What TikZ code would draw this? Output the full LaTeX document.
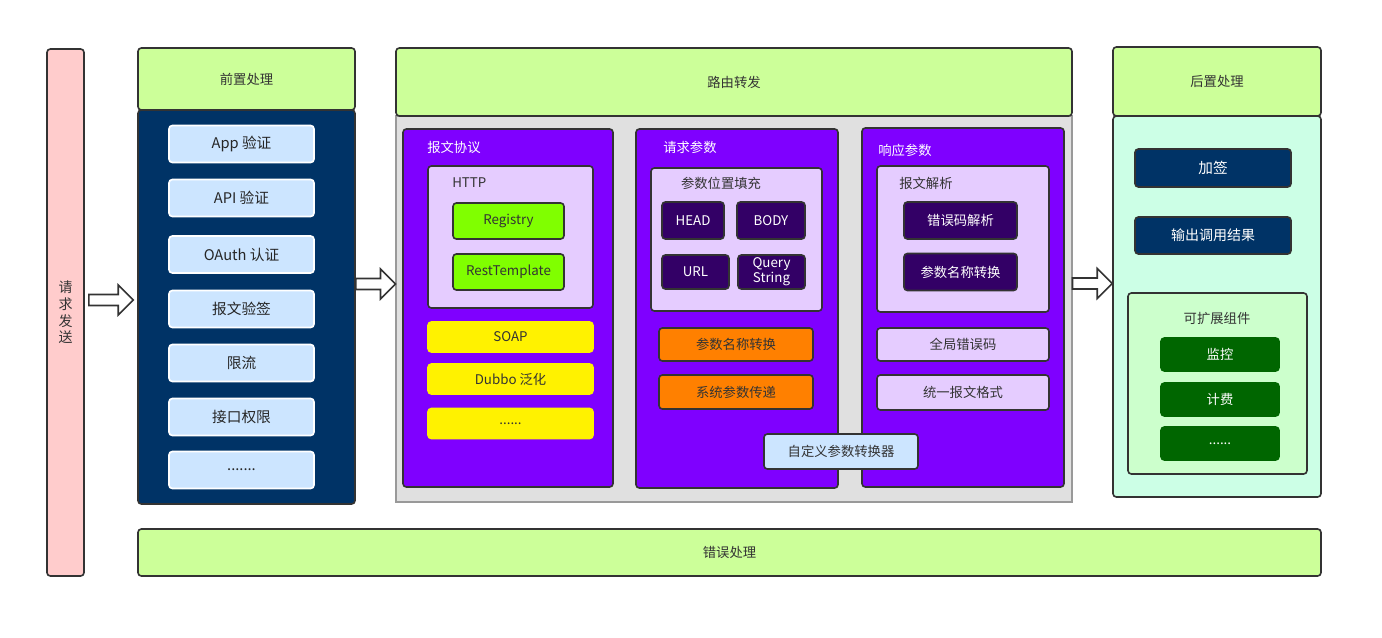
\documentclass[tikz,border=0pt]{standalone}
\usepackage{fontspec}
\setmainfont{Noto Sans CJK SC}
\usetikzlibrary{calc}

\definecolor{sendpink}{HTML}{FFCCCC}
\definecolor{headgreen}{HTML}{CCFF99}
\definecolor{navybody}{HTML}{003366}
\definecolor{lightblue}{HTML}{CCE5FF}
\definecolor{panelgray}{HTML}{E0E0E0}
\definecolor{panelviolet}{HTML}{7F00FF}
\definecolor{lavender}{HTML}{E5CCFF}
\definecolor{limebox}{HTML}{80FF00}
\definecolor{darkpurple}{HTML}{330066}
\definecolor{orangebox}{HTML}{FF8000}
\definecolor{mintbody}{HTML}{CCFFE6}
\definecolor{palegreen}{HTML}{CCFFCC}
\definecolor{darkgreen}{HTML}{006600}
\definecolor{edge}{HTML}{333333}

\newcommand{\hollowarrow}[2]{%
  \draw[hollow] ($(#1)+(0,-5.5)$) -- ($(#2)+(-15,-5.5)$) -- ($(#2)+(-15,-15)$) -- (#2)
    -- ($(#2)+(-15,15)$) -- ($(#2)+(-15,5.5)$) -- ($(#1)+(0,5.5)$) -- cycle;}

\begin{document}
\begin{tikzpicture}[
  x=0.75pt, y=-0.75pt,
  font=\fontsize{10}{12}\selectfont,
  wh/.style 2 args={minimum width=#1*0.75pt, minimum height=#2*0.75pt},
  box/.style={draw=edge, line width=1.2pt, rounded corners=2.5pt, inner sep=0pt, align=center, text=edge},
  head/.style={box, fill=headgreen},
  item/.style={box, draw=white, fill=lightblue, font=\fontsize{11}{13}\selectfont, text=black!85},
  panel/.style={box, fill=panelviolet},
  title/.style={anchor=west, inner sep=0pt, text=white},
  sub/.style={box, fill=lavender},
  subtitle/.style={inner sep=0pt, text=edge},
  dark/.style={box, fill=darkpurple, text=white},
  flat/.style={box, draw=#1, fill=#1},
  hollow/.style={draw=edge, line width=1.2pt, fill=white}
]
\useasboundingbox (0,0) rectangle (1382,638);

\node[box, fill=sendpink, wh={37}{527}, font=\fontsize{10.5}{12.5}\selectfont] (send) at (65.5,312.5)
  {请\\求\\发\\送};

\node[box, fill=navybody, wh={217}{394}] (prebody) at (246.5,307) {};
\node[head, wh={217}{62}] (pre) at (246.5,79) {前置处理};
\node[item, wh={145}{37}] (app) at (241.5,144) {App 验证};
\node[item, wh={145}{37}] (api) at (241.5,198) {API 验证};
\node[item, wh={145}{37}] (oauth) at (241.5,254.5) {OAuth 认证};
\node[item, wh={145}{37}] (sign) at (241.5,309) {报文验签};
\node[item, wh={145}{37}] (limit) at (241.5,363) {限流};
\node[item, wh={145}{37}] (auth) at (241.5,417) {接口权限};
\node[item, wh={145}{37}] (premore) at (241.5,470) {.......};

\node[draw=black!40, line width=0.8pt, fill=panelgray, inner sep=0pt, wh={676}{386}] (routebody) at (734,309) {};
\node[head, wh={676}{68}] (route) at (734,82) {路由转发};

\node[panel, wh={210}{358}] (proto) at (508,308) {};
\node[title] (prototitle) at (427,147) {报文协议};
\node[sub, wh={165}{142}] (http) at (510.5,237) {};
\node[subtitle, anchor=west] (httptitle) at (452,183) {HTTP};
\node[box, fill=limebox, wh={111}{36}] (registry) at (508.5,221) {Registry};
\node[box, fill=limebox, wh={111}{36}] (rest) at (508.5,272) {RestTemplate};
\node[flat=yellow, wh={165}{30}] (soap) at (510.5,337) {SOAP};
\node[flat=yellow, wh={165}{30}] (dubbo) at (510.5,379) {Dubbo 泛化};
\node[flat=yellow, wh={165}{30}] (protomore) at (510.5,423.5) {......};

\node[panel, wh={202}{359}] (req) at (737,308.5) {};
\node[title] (reqtitle) at (663,147) {请求参数};
\node[sub, wh={171}{143}] (fill) at (736.5,239.5) {};
\node[subtitle] (filltitle) at (721,183) {参数位置填充};
\node[dark, wh={62}{37}] (headp) at (693,220.5) {HEAD};
\node[dark, wh={68}{37}] (bodyp) at (771,220.5) {BODY};
\node[dark, wh={67}{34}] (urlp) at (695.5,272) {URL};
\node[dark, wh={67}{34}, font=\fontsize{10}{11}\selectfont] (queryp) at (771.5,272) {Query\\String};
\node[box, fill=orangebox, wh={154}{33}] (rename) at (736,344.5) {参数名称转换};
\node[box, fill=orangebox, wh={154}{34}] (syspass) at (736,392) {系统参数传递};

\node[panel, wh={202}{359}] (resp) at (963,307.5) {};
\node[title] (resptitle) at (878,150) {响应参数};
\node[sub, wh={172}{146}] (parse) at (963,239) {};
\node[subtitle, anchor=west] (parsetitle) at (899,183) {报文解析};
\node[dark, wh={113}{37}] (errparse) at (960.5,220.5) {错误码解析};
\node[dark, wh={113}{37}] (respname) at (960.5,272) {参数名称转换};
\node[sub, wh={172}{33}] (globalerr) at (963,344.5) {全局错误码};
\node[sub, wh={172}{35}] (unify) at (963,392.5) {统一报文格式};

\node[box, fill=lightblue, wh={154}{35}] (custom) at (841,451.5) {自定义参数转换器};

\node[box, fill=mintbody, wh={208}{381}] (postbody) at (1217,306.5) {};
\node[head, wh={208}{69}] (post) at (1217,81.5) {后置处理};
\node[box, fill=navybody, text=white, wh={156}{38}, font=\fontsize{11}{13}\selectfont] (addsign) at (1213,168) {加签};
\node[box, fill=navybody, text=white, wh={156}{37}, font=\fontsize{10.5}{12}\selectfont] (output) at (1213,235.5) {输出调用结果};
\node[box, fill=palegreen, wh={179}{181}] (ext) at (1217.5,383.5) {};
\node[subtitle] (exttitle) at (1217,318) {可扩展组件};
\node[flat=darkgreen, text=white, wh={118}{33}] (monitor) at (1220,354.5) {监控};
\node[flat=darkgreen, text=white, wh={118}{33}] (billing) at (1220,399.5) {计费};
\node[flat=darkgreen, text=white, wh={118}{33}] (extmore) at (1220,443.5) {......};

\node[head, wh={1183}{47}] (error) at (729.5,552.5) {错误处理};

\coordinate (a1s) at ($(send.east |- 0,300)+(4,0)$);
\coordinate (a1e) at ($(prebody.west |- 0,300)+(-4,0)$);
\coordinate (a2s) at (prebody.east |- 0,284);
\coordinate (a2e) at (routebody.west |- 0,284);
\coordinate (a3s) at (routebody.east |- 0,283.5);
\coordinate (a3e) at (postbody.west |- 0,283.5);
\hollowarrow{a1s}{a1e}
\hollowarrow{a2s}{a2e}
\hollowarrow{a3s}{a3e}

\end{tikzpicture}
\end{document}
